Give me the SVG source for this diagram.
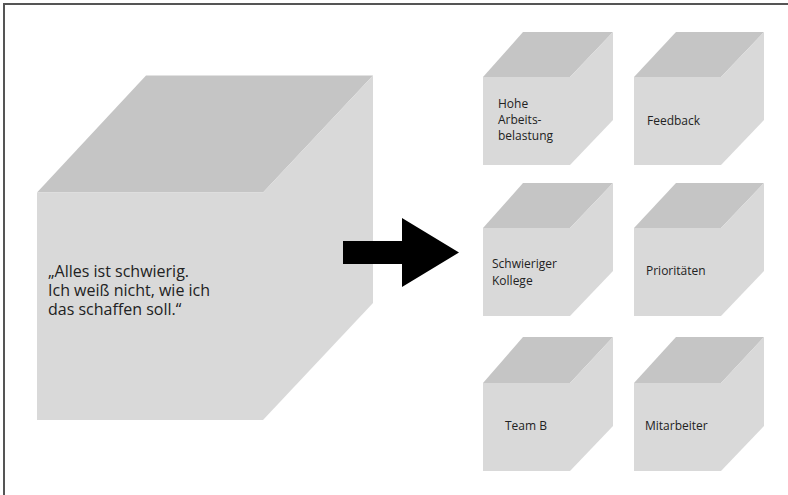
<svg xmlns="http://www.w3.org/2000/svg" width="788" height="495" viewBox="0 0 788 495">
<defs>
<style>
.top{fill:#c5c5c5}
.front{fill:#d9d9d9}
.side{fill:#d9d9d9}
.lbl{font-family:"Open Sans","Noto Sans",sans-serif;font-size:12px;fill:#222}
.big{font-family:"Open Sans","Noto Sans",sans-serif;font-size:16px;fill:#222}
.frame{stroke:#555;stroke-width:2;fill:none}
</style>
</defs>
<rect width="788" height="495" fill="#fff"/>
<path class="frame" d="M4,495 V4 H788"/>
<g id="main">
<polygon class="top" points="37,192.5 146,75.5 373,75.5 263,192.5"/>
<polygon class="side" points="263,192.5 373,75.5 373,303 263,420"/>
<rect class="front" x="37" y="192.5" width="226" height="227.5"/>
<text class="big"><tspan x="48" y="277">„Alles ist schwierig.</tspan><tspan x="48" y="296">Ich weiß nicht, wie ich</tspan><tspan x="48" y="315">das schaffen soll.“</tspan></text>
</g>
<g id="connectors">
<polygon fill="#000" points="343,241 402,241 402,218 459,252.5 402,287 402,264 343,264"/>
</g>
<g id="c1">
<polygon class="top" points="483,77 523,32 613,32 570,77"/>
<polygon class="side" points="570,77 613,32 613,120 570,165"/>
<rect class="front" x="483" y="77" width="87" height="88"/>
<text class="lbl"><tspan x="498" y="108">Hohe</tspan><tspan x="498" y="124">Arbeits-</tspan><tspan x="498" y="140">belastung</tspan></text>
</g>
<g id="c2">
<polygon class="top" points="634,77 676,32 764,32 721,77"/>
<polygon class="side" points="721,77 764,32 764,120 721,165"/>
<rect class="front" x="634" y="77" width="87" height="88"/>
<text class="lbl" x="647" y="125">Feedback</text>
</g>
<g id="c3">
<polygon class="top" points="483,228 523,183 613,183 570,228"/>
<polygon class="side" points="570,228 613,183 613,271 570,316"/>
<rect class="front" x="483" y="228" width="87" height="88"/>
<text class="lbl"><tspan x="492" y="268">Schwieriger</tspan><tspan x="492" y="285">Kollege</tspan></text>
</g>
<g id="c4">
<polygon class="top" points="634,228 676,183 764,183 721,228"/>
<polygon class="side" points="721,228 764,183 764,271 721,316"/>
<rect class="front" x="634" y="228" width="87" height="88"/>
<text class="lbl" x="646" y="275">Prioritäten</text>
</g>
<g id="c5">
<polygon class="top" points="483,383 523,337 613,337 570,383"/>
<polygon class="side" points="570,383 613,337 613,426 570,471"/>
<rect class="front" x="483" y="383" width="87" height="88"/>
<text class="lbl" x="505" y="430">Team B</text>
</g>
<g id="c6">
<polygon class="top" points="634,383 676,337 764,337 721,383"/>
<polygon class="side" points="721,383 764,337 764,426 721,471"/>
<rect class="front" x="634" y="383" width="87" height="88"/>
<text class="lbl" x="645" y="430">Mitarbeiter</text>
</g>
</svg>
